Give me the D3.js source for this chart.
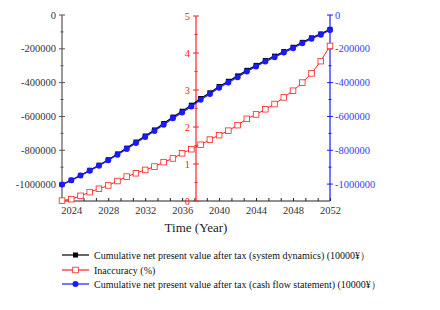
<!DOCTYPE html>
<meta charset="utf-8">
<html>
<head>
  <script src="https://cdn.jsdelivr.net/npm/d3@7"></script>
  <style>
    body { margin: 0; background: #fff; }
    svg text { font-family: 'Liberation Serif', 'Times New Roman', serif !important; }
  </style>
</head>
<body>
<script>
  // data
  var years = d3.range(2023, 2053);
  var sysDyn = [-1002900, -977100, -948600, -918200, -888000, -856000, -821500, -787200, -751300, -715500,
    -679800, -642200, -603700, -569000, -533400, -493900, -460200, -423000, -391800, -360100,
    -327100, -297900, -268700, -243100, -216200, -190600, -161700, -135000, -111800, -84800];
  var cashFlow = [-1003000, -977600, -949900, -920400, -890900, -859600, -826000, -792400, -757000, -721600,
    -686200, -649000, -610700, -576400, -541000, -501500, -467900, -430700, -399400, -367600,
    -334500, -305000, -275500, -249600, -222400, -196500, -167000, -139800, -116200, -88500];
  var inaccuracy = [0.01, 0.05, 0.14, 0.24, 0.33, 0.42, 0.54, 0.66, 0.75, 0.84,
    0.93, 1.05, 1.15, 1.29, 1.40, 1.52, 1.66, 1.78, 1.90, 2.05,
    2.22, 2.34, 2.48, 2.62, 2.80, 2.98, 3.20, 3.45, 3.78, 4.19];
  var xTicks = [2024, 2028, 2032, 2036, 2040, 2044, 2048, 2052];
  var npvTicks = [0, -200000, -400000, -600000, -800000, -1000000];
  var pctTicks = [0, 1, 2, 3, 4, 5];
  var legendLabels = [
    "Cumulative net present value after tax (system dynamics) (10000\u00a5\uff09",
    "Inaccuracy (%)",
    "Cumulative net present value after tax (cash flow statement) (10000\u00a5\uff09"
  ];

  var W = 440, H = 310;
  var mL = 62, mR = 330, mT = 15, mB = 201;
  var red = "#ff2020", blue = "#1a1aff";

  var svg = d3.select("body").append("svg")
    .attr("width", W).attr("height", H);

  //Scales
  var x = d3.scaleLinear().domain([2023, 2052]).range([mL, mR]);
  var yL = d3.scaleLinear().domain([-1100000, 0]).range([mB, mT]);
  var yP = d3.scaleLinear().domain([0, 5]).range([mB, mT + 1]);
  var redX = x(2037.5);

  //X axis: major labels + ticks every 4/3 year
  var xMinor = d3.range(2024, 2052.01, 4 / 3);
  svg.append("g")
    .attr("transform", `translate(0, ${mB})`)
    .call(d3.axisBottom(x).tickValues(xMinor).tickSize(-3).tickFormat(""))
    .call(g => g.select(".domain").attr("stroke", "#222").attr("d", `M${mL},0H${mR}`))
    .call(g => g.selectAll(".tick line").attr("stroke", "#222"));
  svg.append("g")
    .attr("transform", `translate(0, ${mB})`)
    .call(d3.axisBottom(x).tickValues(xTicks).tickSize(0).tickPadding(6).tickFormat(d3.format("d")))
    .call(g => g.select(".domain").remove())
    .call(g => g.selectAll("text").attr("font-size", 10.5).attr("fill", "#333"));

  svg.append("text")
    .attr("x", x(2037.5)).attr("y", 232)
    .attr("text-anchor", "middle").attr("font-size", 13).attr("fill", "#222")
    .text("Time (Year)");

  //Crossing ticks helper
  function crossTicks(g, scale, vals, ax, lo, hi, color) {
    g.selectAll(null).data(vals).enter().append("line")
      .attr("x1", ax - lo).attr("x2", ax + hi)
      .attr("y1", d => scale(d)).attr("y2", d => scale(d))
      .attr("stroke", color).attr("stroke-width", 1);
  }

  function yAxis(scale, ax, major, minor, color, labelColor, side, fmt) {
    var g = svg.append("g");
    g.append("line").attr("x1", ax).attr("x2", ax)
      .attr("y1", scale.range()[1]).attr("y2", mB)
      .attr("stroke", color).attr("stroke-width", 1.2);
    crossTicks(g, scale, major, ax, 3, 3, color);
    crossTicks(g, scale, minor, ax, 1.5, 1.5, color);
    g.selectAll(null).data(major).enter().append("text")
      .attr("x", side < 0 ? ax - 6 : ax + 5)
      .attr("y", d => scale(d)).attr("dy", "0.35em")
      .attr("text-anchor", side < 0 ? "end" : "start")
      .attr("font-size", 10.5).attr("fill", labelColor)
      .text(fmt);
  }

  var npvMinor = [-100000, -300000, -500000, -700000, -900000];
  var pctMinor = [0.5, 1.5, 2.5, 3.5, 4.5];
  yAxis(yL, mL, npvTicks, npvMinor, "#555", "#333", -1, d => d);
  yAxis(yP, redX, pctTicks, pctMinor, red, red, -1, d => d);
  yAxis(yL, mR, npvTicks, npvMinor, blue, "#3a3aff", 1, d => d);

  //Series
  var lineL = d3.line().x((d, i) => x(years[i])).y(d => yL(d));
  var lineP = d3.line().x((d, i) => x(years[i])).y(d => yP(d));

  svg.append("path").datum(sysDyn).attr("d", lineL)
    .attr("fill", "none").attr("stroke", "#000").attr("stroke-width", 1.2);
  svg.selectAll(".sq").data(sysDyn).enter().append("rect")
    .attr("x", (d, i) => x(years[i]) - 2.5).attr("y", d => yL(d) - 2.5)
    .attr("width", 5).attr("height", 5).attr("fill", "#000");

  svg.append("path").datum(inaccuracy).attr("d", lineP)
    .attr("fill", "none").attr("stroke", red).attr("stroke-width", 1);
  svg.selectAll(".osq").data(inaccuracy).enter().append("rect")
    .attr("x", (d, i) => x(years[i]) - 2.8).attr("y", d => yP(d) - 2.8)
    .attr("width", 5.6).attr("height", 5.6)
    .attr("fill", "#fff").attr("stroke", red).attr("stroke-width", 0.8);

  svg.append("path").datum(cashFlow).attr("d", lineL)
    .attr("fill", "none").attr("stroke", blue).attr("stroke-width", 1.2);
  svg.selectAll(".dot").data(cashFlow).enter().append("circle")
    .attr("cx", (d, i) => x(years[i])).attr("cy", d => yL(d))
    .attr("r", 3).attr("fill", blue);

  //Legend
  var legY = [255, 270, 284];
  var legColor = ["#000", red, blue];
  var lg = svg.append("g");
  legendLabels.forEach((t, i) => {
    lg.append("line").attr("x1", 62).attr("x2", 89)
      .attr("y1", legY[i]).attr("y2", legY[i])
      .attr("stroke", legColor[i]).attr("stroke-width", 1.2);
    if (i == 0) lg.append("rect").attr("x", 73).attr("y", legY[i] - 2.5)
      .attr("width", 5).attr("height", 5).attr("fill", "#000");
    if (i == 1) lg.append("rect").attr("x", 72.7).attr("y", legY[i] - 2.8)
      .attr("width", 5.6).attr("height", 5.6).attr("fill", "#fff").attr("stroke", red).attr("stroke-width", 0.8);
    if (i == 2) lg.append("circle").attr("cx", 75.5).attr("cy", legY[i]).attr("r", 3).attr("fill", blue);
    lg.append("text").attr("x", 94).attr("y", legY[i]).attr("dy", "0.35em")
      .attr("font-size", 10).attr("fill", "#111").text(t);
  });
</script>
</body>
</html>
